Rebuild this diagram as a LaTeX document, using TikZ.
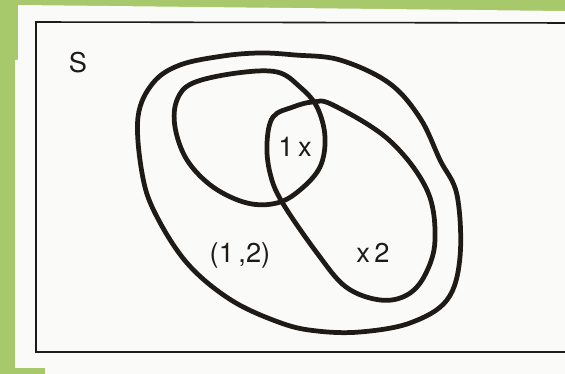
\documentclass[tikz,border=0pt]{standalone}
\usepackage{fontspec}
\setsansfont{TeX Gyre Heros}
\usepackage{tikz}
\definecolor{leafgreen}{RGB}{168,200,108}
\definecolor{paper}{RGB}{250,250,248}
\definecolor{ink}{RGB}{30,26,22}

\begin{document}
\begin{tikzpicture}[x=0.02cm, y=-0.02cm, thick,
    set/.style={draw=ink, line width=2.7pt, line join=round},
    lbl/.style={font=\sffamily\fontsize{15.5}{17}\selectfont, text=ink, inner sep=0pt}]
    \useasboundingbox (0,0) rectangle (565,374);
    \fill[leafgreen] (0,0) rectangle (565,374);
    \fill[paper] (18,5) -- (565,11) -- (565,374) -- (45,374) -- (45,368) -- (15,368) -- (15,60) -- (18,60) -- cycle;
    \draw[line width=0.9pt, ink] (565,23) -- (36,22) -- (36,352) -- (565,352);

    \draw[set] plot[smooth cycle, tension=0.6] coordinates {(223,56) (180,65) (153,83) (138,117) (142,173) (155,213) (187,263) (231,300) (281,323) (317,331) (360,332) (410,323) (447,300) (460,257) (457,195) (440,160) (420,118) (389,83) (340,60) (295,55) (260,53)};
    \draw[set] plot[smooth cycle, tension=0.6] coordinates {(177,100) (193,83) (237,73) (277,72) (300,87) (317,107) (325,137) (320,167) (300,190) (277,203) (247,203) (213,187) (187,160) (175,127)};
    \draw[set] plot[smooth cycle, tension=0.6] coordinates {(273,117) (293,107) (313,102) (333,105) (389,140) (427,190) (435,240) (425,275) (407,295) (380,300) (346,287) (317,253) (282,202) (270,173) (267,143)};

    \node[lbl] (s) at (78,63) {S};
    \node[lbl] (both) at (295,147) {1\,x};
    \node[lbl] (left) at (240,255) {(1\,,2)};
    \node[lbl] (right) at (373,253) {x\,2};
\end{tikzpicture}
\end{document}
